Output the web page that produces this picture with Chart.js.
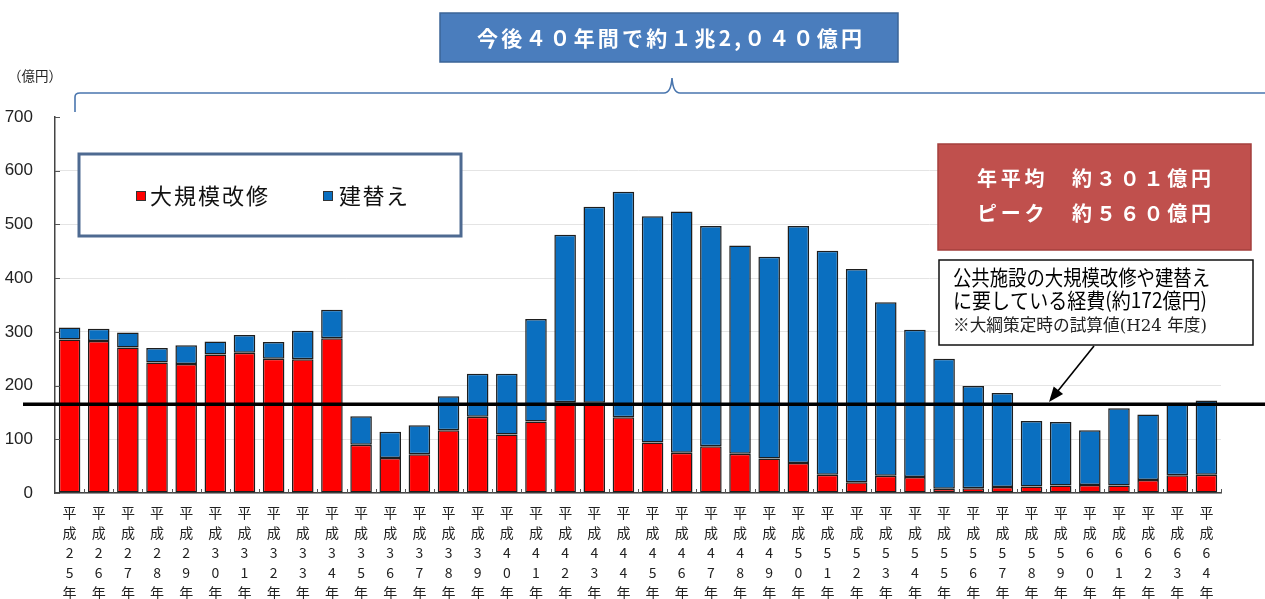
<!DOCTYPE html>
<html><head><meta charset="utf-8">
<script src="https://cdn.jsdelivr.net/npm/chart.js@4/dist/chart.umd.min.js"></script>
<style>
html,body{margin:0;padding:0;background:#fff;overflow:hidden;width:1265px;height:599px}
#wrap{position:relative;width:1265px;height:610px}
</style>
</head><body><div id="wrap"><canvas id="c" width="1265" height="610"></canvas></div>
<script>
// ---- data ----
const categories = ['平成25年','平成26年','平成27年','平成28年','平成29年','平成30年','平成31年','平成32年','平成33年','平成34年',
  '平成35年','平成36年','平成37年','平成38年','平成39年','平成40年','平成41年','平成42年','平成43年','平成44年',
  '平成45年','平成46年','平成47年','平成48年','平成49年','平成50年','平成51年','平成52年','平成53年','平成54年',
  '平成55年','平成56年','平成57年','平成58年','平成59年','平成60年','平成61年','平成62年','平成63年','平成64年'];
const renovation = [286,283,271,243,240,258,261,250,249,288, 90,65,72,117,142,109,133,169,168,141,
  94,75,87,73,64,56,34,20,32,30, 8,9,11,12,14,15,14,24,33,34];
const rebuild = [22,23,28,27,35,24,33,31,53,53, 53,49,54,63,80,113,191,312,365,420,
  421,449,410,388,376,441,417,397,323,274, 242,190,175,122,118,102,144,122,132,138];
const yTicks = [0,100,200,300,400,500,600,700];
const seriesNames = ['大規模改修','建替え'];
const refLineValue = 165;
const titleText = '今後４０年間で約１兆2,０４０億円';
const summaryLines = ['年平均　約３０１億円','ピーク　約５６０億円'];
const noteLines = ['公共施設の大規模改修や建替え','に要している経費(約172億円)','※大綱策定時の試算値(H24 年度)'];
const unitLabel = '（億円）';

const tickLabels = categories.map(c => Array.from(c));
const RED = '#FF0000', BLUE = '#0A6FC0';
const JP = '"Noto Sans CJK JP", "Noto Sans", sans-serif';

function spacedText(ctx, text, x0, cy, targetW) {
  ctx.save();
  ctx.letterSpacing = '0px';
  const w = ctx.measureText(text).width;
  const n = Array.from(text).length;
  const ls = (targetW - w) / Math.max(1, n - 1);
  ctx.letterSpacing = ls + 'px';
  ctx.textAlign = 'left'; ctx.textBaseline = 'middle';
  ctx.fillText(text, x0, cy);
  ctx.restore();
}
function scaledText(ctx, text, x0, cy, targetW) {
  ctx.save();
  const w = ctx.measureText(text).width;
  ctx.translate(x0, cy);
  ctx.scale(targetW / w, 1);
  ctx.textAlign = 'left'; ctx.textBaseline = 'middle';
  ctx.fillText(text, 0, 0);
  ctx.restore();
}

const decor = {
  id: 'decor',
  afterDatasetsDraw(chart) {
    const ctx = chart.ctx, ys = chart.scales.y, xs = chart.scales.x, a = chart.chartArea;
    ctx.save();
    // inward tick marks
    ctx.strokeStyle = '#555'; ctx.lineWidth = 1;
    yTicks.forEach(v => {
      const y = Math.round(ys.getPixelForValue(v)) + 0.5;
      ctx.beginPath(); ctx.moveTo(a.left, y); ctx.lineTo(a.left + 5, y); ctx.stroke();
    });
    const n = categories.length, step = (a.right - a.left) / n;
    for (let i = 1; i <= n; i++) {
      const x = Math.round(a.left + i * step) + 0.5;
      ctx.beginPath(); ctx.moveTo(x, a.bottom); ctx.lineTo(x, a.bottom - 4); ctx.stroke();
    }
    // reference line
    const y = ys.getPixelForValue(refLineValue);
    ctx.strokeStyle = '#000'; ctx.lineWidth = 3.5;
    ctx.beginPath(); ctx.moveTo(23, y); ctx.lineTo(1265, y); ctx.stroke();
    ctx.restore();
  },
  afterDraw(chart) {
    const ctx = chart.ctx;
    ctx.save();
    // unit label
    ctx.fillStyle = '#222'; ctx.font = '14px ' + JP;
    scaledText(ctx, unitLabel, 8, 76, 54);

    // bracket
    ctx.strokeStyle = '#4A76AE'; ctx.lineWidth = 1.6;
    ctx.beginPath();
    ctx.moveTo(75, 112);
    ctx.lineTo(75, 97);
    ctx.quadraticCurveTo(75, 93, 80, 93);
    ctx.lineTo(664, 93);
    ctx.quadraticCurveTo(671, 93, 672, 78);
    ctx.quadraticCurveTo(673, 93, 680, 93);
    ctx.lineTo(1265, 93);
    ctx.stroke();

    // title box
    ctx.fillStyle = '#4A7DBD'; ctx.fillRect(440, 13, 458, 49);
    ctx.strokeStyle = '#3B6497'; ctx.lineWidth = 1.5; ctx.strokeRect(440, 13, 458, 49);
    ctx.fillStyle = '#fff'; ctx.font = 'bold 21px ' + JP;
    spacedText(ctx, titleText, 477, 38, 385);

    // legend box
    ctx.fillStyle = '#fff'; ctx.fillRect(79, 154, 382, 82);
    ctx.strokeStyle = '#4E6A91'; ctx.lineWidth = 3; ctx.strokeRect(79, 154, 382, 82);
    ctx.lineWidth = 1;
    ctx.fillStyle = RED; ctx.fillRect(136, 191, 10, 10);
    ctx.strokeStyle = '#333'; ctx.strokeRect(136.5, 191.5, 9, 9);
    ctx.fillStyle = BLUE; ctx.fillRect(323, 191, 10, 10);
    ctx.strokeRect(323.5, 191.5, 9, 9);
    ctx.fillStyle = '#111'; ctx.font = '22px ' + JP;
    spacedText(ctx, seriesNames[0], 150, 196, 118);
    spacedText(ctx, seriesNames[1], 339, 196, 69);

    // summary box
    ctx.fillStyle = '#C0504D'; ctx.fillRect(938, 144, 313, 106);
    ctx.strokeStyle = '#A43F3C'; ctx.lineWidth = 1.5; ctx.strokeRect(938, 144, 313, 106);
    ctx.fillStyle = '#fff'; ctx.font = 'bold 20px ' + JP;
    spacedText(ctx, summaryLines[0], 977, 178, 234);
    spacedText(ctx, summaryLines[1], 977, 213, 234);

    // note box
    ctx.fillStyle = '#fff'; ctx.fillRect(939, 260, 314, 85);
    ctx.strokeStyle = '#111'; ctx.lineWidth = 1.5; ctx.strokeRect(939, 260, 314, 85);
    ctx.fillStyle = '#000'; ctx.font = '21px ' + JP;
    scaledText(ctx, noteLines[0], 953, 277, 257);
    scaledText(ctx, noteLines[1], 953, 300, 254);
    ctx.font = '17px "DejaVu Serif", ' + JP; ctx.fillStyle = '#222';
    scaledText(ctx, noteLines[2], 953, 327, 254);

    // arrow
    const x1 = 1094, y1 = 346, x2 = 1049, y2 = 402;
    ctx.strokeStyle = '#000'; ctx.fillStyle = '#000'; ctx.lineWidth = 1.6;
    const ang = Math.atan2(y2 - y1, x2 - x1);
    ctx.beginPath(); ctx.moveTo(x1, y1); ctx.lineTo(x2 - 10 * Math.cos(ang), y2 - 10 * Math.sin(ang)); ctx.stroke();
    ctx.beginPath();
    ctx.moveTo(x2, y2);
    ctx.lineTo(x2 - 15 * Math.cos(ang) + 6 * Math.sin(ang), y2 - 15 * Math.sin(ang) - 6 * Math.cos(ang));
    ctx.lineTo(x2 - 15 * Math.cos(ang) - 6 * Math.sin(ang), y2 - 15 * Math.sin(ang) + 6 * Math.cos(ang));
    ctx.closePath(); ctx.fill();
    ctx.restore();
  }
};

new Chart(document.getElementById('c'), {
  type: 'bar',
  data: {
    labels: tickLabels,
    datasets: [
      { label: seriesNames[0], data: renovation, backgroundColor: RED, borderColor: '#1E1E1E', borderWidth: 1.5, borderSkipped: false, barPercentage: 0.74, categoryPercentage: 1 },
      { label: seriesNames[1], data: rebuild, backgroundColor: BLUE, borderColor: '#1E1E1E', borderWidth: 1.5, borderSkipped: false, barPercentage: 0.74, categoryPercentage: 1 }
    ]
  },
  options: {
    responsive: false, animation: false, devicePixelRatio: 1,
    layout: { padding: { top: 117, right: 44, bottom: 0, left: 0 } },
    plugins: { legend: { display: false }, tooltip: { enabled: false } },
    scales: {
      x: {
        stacked: true,
        grid: { display: false, drawOnChartArea: false, tickLength: 0 },
        border: { display: true, color: '#444', width: 1.5 },
        ticks: { autoSkip: false, maxRotation: 0, minRotation: 0, padding: 10, color: '#222',
          font: { family: JP, size: 14, lineHeight: '20px' } },
        afterFit: s => { s.height = 117; }
      },
      y: {
        stacked: true, min: 0, max: 700,
        afterBuildTicks: s => { s.ticks = yTicks.map(v => ({ value: v })); },
        grid: { color: c => (c.tick && c.tick.value === 700) ? 'rgba(0,0,0,0)' : '#E4E4E4', tickLength: 0 },
        border: { color: '#444', width: 1.5 },
        ticks: { padding: 22, color: '#222', font: { family: '"Liberation Sans", Arial, sans-serif', size: 17 } },
        afterFit: s => { s.width = 55; }
      }
    }
  },
  plugins: [decor]
});
</script>
</body></html>
